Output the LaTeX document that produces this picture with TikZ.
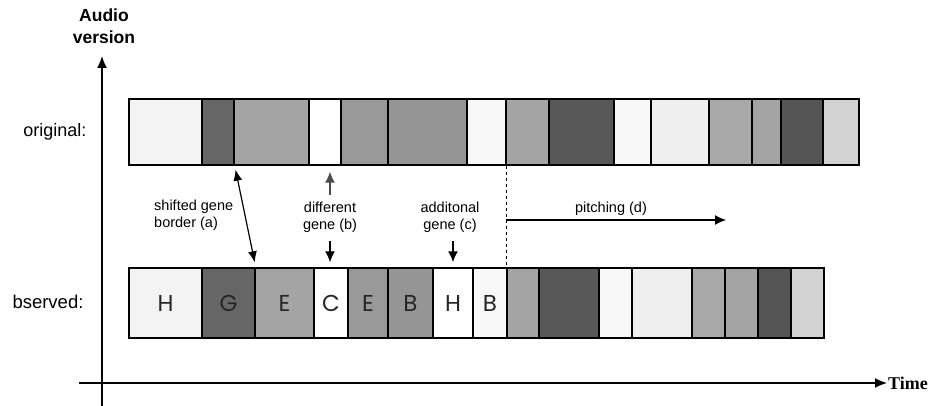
\documentclass[tikz,border=0pt]{standalone}
\usepackage{fontspec}
\setmainfont{Liberation Sans}
\newfontfamily\genefont{Poppins}
\newfontfamily\timefont{Liberation Serif}
\usetikzlibrary{arrows.meta}
\tikzstyle{cell} = [rectangle, draw=black, line width=1.5pt, inner sep=0pt, text=black!85, font=\genefont\fontsize{23}{23}\selectfont]
\tikzstyle{lbl} = [align=center, inner sep=1pt, font=\fontsize{14.5}{17}\selectfont]
\tikzstyle{arrow} = [line width=1.2pt,-{Latex[length=11pt,width=10pt]}]
\tikzstyle{dblarrow} = [line width=1.2pt,{Latex[length=11pt,width=9pt]}-{Latex[length=11pt,width=9pt]}]
\tikzstyle{axis} = [line width=1.5pt,-{Latex[length=12pt,width=10pt]}]

\begin{document}
\begin{tikzpicture}[x=1pt,y=-1pt]
\useasboundingbox (0,0) rectangle (931,406);

% Original bar
\foreach \l/\r/\g [count=\i] in {129/202/4.7, 202/234/60, 234/309/35.7, 309/341/0, 341/388/40, 388/467/41.6, 467/506/2.7, 506/549/35.7, 549/614/65.5, 614/651/2.7, 651/709/6.3, 709/752/34, 752/781/35.7, 781/823/66.7, 823/859/17.6}
  \node (top\i) [cell, fill=black!\g, minimum width={(\r-\l)*1pt}, minimum height=66pt] at ({(\l+\r)/2},132) {};

% Observed bar
\foreach \l/\r/\g/\n [count=\i] in {129/202/4.7/H, 202/255/60/G, 255/314/35.7/E, 314/348/0/C, 348/388/40/E, 388/433/41.6/B, 433/473/0/H, 473/507/2.7/B, 507/539/35.7/{}, 539/599/65.5/{}, 599/632/2.7/{}, 632/692/6.3/{}, 692/725/34/{}, 725/758/35.7/{}, 758/791/66.7/{}, 791/824/17.6/{}}
  \node (bot\i) [cell, fill=black!\g, minimum width={(\r-\l)*1pt}, minimum height=70pt] at ({(\l+\r)/2},303) {\n};

% Row labels
\node (orig) [anchor=east, font=\fontsize{18}{18}\selectfont] at (90,132) {original:};
\node (obs) [anchor=east, font=\fontsize{18.5}{18.5}\selectfont] at (87,302) {bserved:};

% Axes
\node (ver) [align=center, font=\bfseries\fontsize{17.5}{22}\selectfont] at (104,26) {Audio\\version};
\coordinate (ybot) at (102,406);
\coordinate (ytop) at (102,56);
\draw [axis] (ybot) -- (ytop);
\node (time) [anchor=west, inner sep=1pt, font=\timefont\bfseries\fontsize{18}{18}\selectfont] at (887,383) {Time};
\coordinate (xleft) at (79,383);
\draw [axis] (xleft) -- (time.west);

% Differences
\node (la) [lbl, align=left, anchor=west] at (153,215) {shifted gene\\border (a)};
\draw [dblarrow, shorten <=4pt, shorten >=5pt] (top2.south east) -- (bot2.north east);

\node (lb) [lbl] at (330,217) {different\\gene (b)};
\draw [arrow, draw=black!70, fill=black, shorten <=6pt, shorten >=6pt] (lb.north) -- (lb.north |- top4.south);
\draw [arrow, shorten <=8pt, shorten >=5pt] (lb.south) -- (lb.south |- bot4.north);

\node (lc) [lbl] at (450,217) {additonal\\gene (c)};
\draw [arrow, line width=1.5pt, shorten <=8pt, shorten >=5pt] (bot7.north |- lc.south) -- (bot7.north);

% Pitching
\draw [dashed, line width=0.8pt] (top7.south east) -- (top7.south east |- bot8.north);
\node (lp) [lbl] at (611,209) {pitching (d)};
\coordinate (ps) at (506,220);
\coordinate (pe) at (726,220);
\draw [arrow] (ps) -- (pe);

\end{tikzpicture}
\end{document}
